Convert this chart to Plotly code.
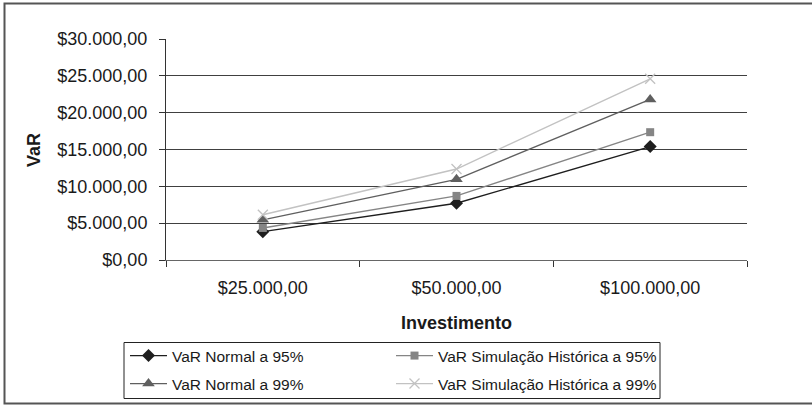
import plotly.graph_objects as go

categories = ["$25.000,00", "$50.000,00", "$100.000,00"]
var_normal_95 = [3850, 7700, 15400]
var_hist_95 = [4350, 8700, 17350]
var_normal_99 = [5450, 10950, 21800]
var_hist_99 = [6150, 12350, 24600]

series_names = [
    "VaR Normal a 95%",
    "VaR Simulação Histórica a 95%",
    "VaR Normal a 99%",
    "VaR Simulação Histórica a 99%",
]

W, H = 812, 405
L, R, T, B = 166, 747, 39, 260
pw, ph = R - L, B - T

def px(x):
    return (x - L) / pw

def py(y):
    return (B - y) / ph

FONT = "Liberation Sans, Arial, sans-serif"

fig = go.Figure()
styles = [
    (var_normal_95, "#1e1e1e", dict(symbol="diamond", size=10, color="#1e1e1e"), "legend"),
    (var_hist_95, "#858585", dict(symbol="square", size=8, color="#858585"), "legend2"),
    (var_normal_99, "#5f5f5f", dict(symbol="triangle-up", size=11, color="#5f5f5f"), "legend3"),
    (var_hist_99, "#c2c2c2", dict(symbol="x-thin-open", size=10, color="#c2c2c2",
                                   line=dict(width=1.3, color="#c2c2c2")), "legend4"),
]
for name, (vals, col, mk, lg) in zip(series_names, styles):
    fig.add_trace(go.Scatter(
        x=categories, y=vals, name=name, mode="lines+markers",
        line=dict(color=col, width=1.4), marker=mk, legend=lg,
    ))

leg_common = dict(
    orientation="h", xanchor="left", yanchor="top",
    borderwidth=0, bgcolor="rgba(0,0,0,0)",
    font=dict(family=FONT, size=15.5, color="#1a1a1a"),
    itemwidth=37,
)

fig.update_layout(
    width=W, height=H,
    margin=dict(l=L, r=W - R, t=T, b=H - B, autoexpand=False),
    paper_bgcolor="white", plot_bgcolor="white",
    separators=",.",
    font=dict(family=FONT, size=18, color="#1a1a1a"),
    showlegend=True,
    legend=dict(x=px(125), y=py(339), **leg_common),
    legend2=dict(x=px(391), y=py(339), **leg_common),
    legend3=dict(x=px(125), y=py(367), **leg_common),
    legend4=dict(x=px(391), y=py(367), **leg_common),
    xaxis=dict(
        type="category", tickson="boundaries", ticks="outside", ticklen=6,
        tickcolor="#333", showline=True, linecolor="#666", linewidth=1,
        showgrid=False, tickfont=dict(size=18), range=[-0.5, 2.5],
        ticklabelstandoff=11,
    ),
    yaxis=dict(
        range=[0, 30000], dtick=5000, tickformat="$,.2f",
        ticks="outside", ticklen=6, tickcolor="#333",
        showline=True, linecolor="#333", linewidth=1,
        showgrid=True, gridcolor="#404040", gridwidth=1,
        zeroline=False, tickfont=dict(size=18), ticklabelstandoff=8,
    ),
    annotations=[
        dict(text="<b>Investimento</b>", x=0.5, y=py(323), xref="paper", yref="paper",
             showarrow=False, font=dict(size=18), xanchor="center", yanchor="middle"),
        dict(text="<b>VaR</b>", x=px(34), y=py(150), xref="paper", yref="paper",
             showarrow=False, font=dict(size=18), textangle=-90,
             xanchor="center", yanchor="middle"),
    ],
    shapes=[
        dict(type="rect", xref="paper", yref="paper",
             x0=px(4.5), x1=px(830), y0=py(403.5), y1=py(3.5),
             line=dict(color="#555", width=2), layer="below"),
        dict(type="rect", xref="paper", yref="paper",
             x0=px(124), x1=px(660), y0=py(398.5), y1=py(342.5),
             line=dict(color="#222", width=1), layer="below"),
    ],
)

fig.write_html("out.html")
